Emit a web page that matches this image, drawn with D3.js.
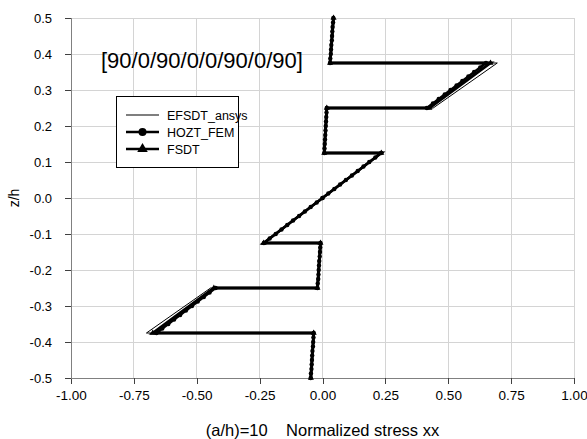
<!DOCTYPE html>
<html>
<head>
<meta charset="utf-8">
<script src="https://cdn.jsdelivr.net/npm/d3@7"></script>
<style>
  html, body { margin: 0; padding: 0; background: #fff; }
  svg { display: block; font-family: "Liberation Sans", Arial, sans-serif; }
</style>
</head>
<body>
<svg id="chart" width="587" height="439"></svg>
<script>
// Tick values for both axes
const xTicks = [-1.00, -0.75, -0.50, -0.25, 0.00, 0.25, 0.50, 0.75, 1.00];
const yTicks = [-0.5, -0.4, -0.3, -0.2, -0.1, 0.0, 0.1, 0.2, 0.3, 0.4, 0.5];

// EFSDT_ansys: values at the ply interfaces (top to bottom)
const efsdtZ = [0.5, 0.375, 0.375, 0.25, 0.25, 0.125, 0.125, -0.125, -0.125, -0.25, -0.25, -0.375, -0.375, -0.5];
const efsdtX = [0.045, 0.031, 0.695, 0.440, 0.016, 0.006, 0.236, -0.236, -0.007, -0.018, -0.445, -0.700, -0.036, -0.047];

// FSDT: values at the ply interfaces (top to bottom)
const fsdtZ = [0.5, 0.375, 0.375, 0.25, 0.25, 0.125, 0.125, -0.125, -0.125, -0.25, -0.25, -0.375, -0.375, -0.5];
const fsdtX = [0.044, 0.030, 0.668, 0.425, 0.017, 0.007, 0.234, -0.234, -0.008, -0.020, -0.432, -0.675, -0.035, -0.046];

// HOZT_FEM: through-thickness samples, 11 per ply (top to bottom)
const hoztZ = [
  0.5, 0.4875, 0.475, 0.4625, 0.45, 0.4375, 0.425, 0.4125, 0.4, 0.3875, 0.375,
  0.375, 0.3625, 0.35, 0.3375, 0.325, 0.3125, 0.3, 0.2875, 0.275, 0.2625, 0.25,
  0.25, 0.2375, 0.225, 0.2125, 0.2, 0.1875, 0.175, 0.1625, 0.15, 0.1375, 0.125,
  0.125, 0.1125, 0.1, 0.0875, 0.075, 0.0625, 0.05, 0.0375, 0.025, 0.0125, 0.0,
  0.0, -0.0125, -0.025, -0.0375, -0.05, -0.0625, -0.075, -0.0875, -0.1, -0.1125, -0.125,
  -0.125, -0.1375, -0.15, -0.1625, -0.175, -0.1875, -0.2, -0.2125, -0.225, -0.2375, -0.25,
  -0.25, -0.2625, -0.275, -0.2875, -0.3, -0.3125, -0.325, -0.3375, -0.35, -0.3625, -0.375,
  -0.375, -0.3875, -0.4, -0.4125, -0.425, -0.4375, -0.45, -0.4625, -0.475, -0.4875, -0.5
];
const hoztX = [
  0.043, 0.042, 0.040, 0.039, 0.038, 0.037, 0.035, 0.034, 0.033, 0.031, 0.030,
  0.650, 0.627, 0.603, 0.580, 0.556, 0.533, 0.509, 0.486, 0.462, 0.439, 0.415,
  0.017, 0.016, 0.015, 0.014, 0.013, 0.012, 0.011, 0.010, 0.009, 0.008, 0.007,
  0.233, 0.210, 0.186, 0.163, 0.140, 0.117, 0.093, 0.070, 0.047, 0.023, 0.000,
  0.000, -0.023, -0.047, -0.070, -0.093, -0.117, -0.140, -0.163, -0.186, -0.210, -0.233,
  -0.008, -0.009, -0.010, -0.011, -0.013, -0.014, -0.015, -0.016, -0.017, -0.019, -0.020,
  -0.425, -0.449, -0.472, -0.496, -0.519, -0.543, -0.566, -0.590, -0.613, -0.637, -0.660,
  -0.035, -0.036, -0.037, -0.038, -0.040, -0.041, -0.042, -0.043, -0.044, -0.046, -0.047
];

const seriesNames = ["EFSDT_ansys", "HOZT_FEM", "FSDT"];
const titleText = "[90/0/90/0/0/90/0/90]";
const xTitle = "(a/h)=10    Normalized stress xx";
const yTitle = "z/h";

const svg = d3.select("#chart");
const plot = { left: 71, right: 574, top: 18, bottom: 378 };

const x = d3.scaleLinear().domain([-1, 1]).range([plot.left, plot.right]);
const y = d3.scaleLinear().domain([-0.5, 0.5]).range([plot.bottom, plot.top]);

// Gridlines
const grid = svg.append("g");
grid.selectAll(".vg").data(xTicks).join("line")
  .attr("x1", d => x(d)).attr("x2", d => x(d))
  .attr("y1", plot.top).attr("y2", plot.bottom)
  .attr("stroke", "#d4d4d4").attr("stroke-width", 1).attr("shape-rendering", "crispEdges");
grid.selectAll(".hg").data(yTicks).join("line")
  .attr("x1", plot.left).attr("x2", plot.right)
  .attr("y1", d => y(d)).attr("y2", d => y(d))
  .attr("stroke", "#d4d4d4").attr("stroke-width", 1).attr("shape-rendering", "crispEdges");

// Axes
const xAxis = d3.axisBottom(x).tickValues(xTicks).tickSize(6).tickPadding(6)
  .tickFormat(d => d.toFixed(2));
const yAxis = d3.axisLeft(y).tickValues(yTicks).tickSize(6).tickPadding(13)
  .tickFormat(d => d.toFixed(1));

const gx = svg.append("g").attr("transform", `translate(0,${plot.bottom})`).call(xAxis);
const gy = svg.append("g").attr("transform", `translate(${plot.left},0)`).call(yAxis);
[gx, gy].forEach(g => {
  g.select(".domain").attr("stroke", "#808080").attr("shape-rendering", "crispEdges");
  g.selectAll(".tick line").attr("stroke", "#404040").attr("shape-rendering", "crispEdges");
  g.selectAll(".tick text").attr("fill", "#000")
    .style("font-family", "'Liberation Sans', Arial, sans-serif");
});
gx.selectAll(".tick text").style("font-size", "13.5px");
gy.selectAll(".tick text").style("font-size", "13px");

// Axis titles
svg.append("text").attr("x", x(0)).attr("y", 436).attr("text-anchor", "middle")
  .attr("xml:space", "preserve").style("white-space", "pre")
  .style("font-size", "16.5px").text(xTitle);
svg.append("text").attr("transform", `translate(19,${y(0)}) rotate(-90)`)
  .attr("text-anchor", "middle").style("font-size", "14px").text(yTitle);

// Layup label
svg.append("text").attr("x", 101).attr("y", 68).style("font-size", "22px").text(titleText);

// Series
const line = d3.line().x(d => x(d[0])).y(d => y(d[1]));
const efsdt = efsdtX.map((v, i) => [v, efsdtZ[i]]);
const fsdt = fsdtX.map((v, i) => [v, fsdtZ[i]]);
const hozt = hoztX.map((v, i) => [v, hoztZ[i]]);

const triangle = d3.symbol().type(d3.symbolTriangle);

svg.append("path").datum(fsdt).attr("d", line)
  .attr("fill", "none").attr("stroke", "#000").attr("stroke-width", 2.8);
svg.append("g").selectAll("path").data(fsdt).join("path")
  .attr("transform", d => `translate(${x(d[0])},${y(d[1])})`)
  .attr("d", triangle.size(16)).attr("fill", "#000");

svg.append("path").datum(hozt).attr("d", line)
  .attr("fill", "none").attr("stroke", "#000").attr("stroke-width", 2.6);
svg.append("g").selectAll("circle").data(hozt).join("circle")
  .attr("cx", d => x(d[0])).attr("cy", d => y(d[1])).attr("r", 2.2)
  .attr("fill", "#000");

svg.append("path").datum(efsdt).attr("d", line)
  .attr("fill", "none").attr("stroke", "#000").attr("stroke-width", 1);

// Legend
const lg = svg.append("g");
lg.append("rect").attr("x", 116.5).attr("y", 96.5).attr("width", 122).attr("height", 71)
  .attr("fill", "#fff").attr("stroke", "#000").attr("stroke-width", 1);
const rows = [115, 132, 149];
seriesNames.forEach((name, i) => {
  const ry = rows[i];
  lg.append("line").attr("x1", 126).attr("x2", 159).attr("y1", ry).attr("y2", ry)
    .attr("stroke", "#000").attr("stroke-width", i === 0 ? 1.2 : 2.4);
  if (i === 1) {
    lg.append("circle").attr("cx", 142.5).attr("cy", ry).attr("r", 4).attr("fill", "#000");
  } else if (i === 2) {
    lg.append("path").attr("transform", `translate(142.5,${ry})`)
      .attr("d", d3.symbol().type(d3.symbolTriangle).size(48)()).attr("fill", "#000");
  }
  lg.append("text").attr("x", 167).attr("y", ry + 4.5).style("font-size", "12.5px").text(name);
});
</script>
</body>
</html>
